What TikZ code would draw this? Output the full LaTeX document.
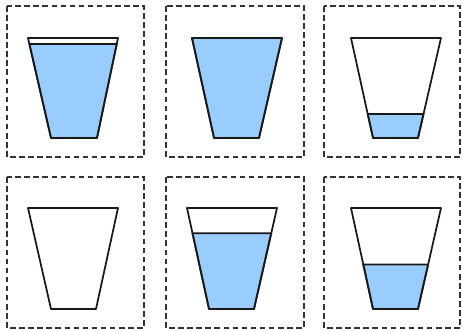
\documentclass[tikz,border=0pt]{standalone}
\usetikzlibrary{calc}
\definecolor{water}{HTML}{99CCFF}
\tikzset{
  panelbox/.style={draw=black!80, line width=1.2pt, dash pattern=on 4.2pt off 2.6pt},
  glassline/.style={draw=black!90, line width=1.3pt, line join=round},
  waterfill/.style={fill=water, draw=black!90, line width=1.3pt, line join=round}
}
% #1 tlx #2 trx #3 blx #4 brx #5 top y #6 bottom y
\newcommand\glassfig[6]{%
  \coordinate (TL) at (#1,#5); \coordinate (TR) at (#2,#5);
  \coordinate (BL) at (#3,#6); \coordinate (BR) at (#4,#6);
}
\newcommand\waterlevel[1]{%
  \path[waterfill] ($(TL)!#1!(BL)$) -- ($(TR)!#1!(BR)$) -- (BR) -- (BL) -- cycle;
}
\newcommand\glassoutline{\draw[glassline] (TL) -- (TR) -- (BR) -- (BL) -- cycle;}
\begin{document}
\begin{tikzpicture}[x=0.75pt,y=-0.75pt]
\useasboundingbox (0,0) rectangle (462,331);
% panel boxes
\draw[panelbox] (7,6) rectangle (144,157);
\draw[panelbox] (166,6) rectangle (304,157);
\draw[panelbox] (324,6) rectangle (460,157);
\draw[panelbox] (7,177) rectangle (144,328);
\draw[panelbox] (166,177) rectangle (304,328);
\draw[panelbox] (324,177) rectangle (460,328);
% glass 1
\glassfig{28}{118}{51}{97}{38}{138}\waterlevel{0.06}\glassoutline
% glass 2
\glassfig{192}{282}{214}{259}{38}{138}\waterlevel{0}\glassoutline
% glass 3
\glassfig{351}{441}{373}{418}{38}{138}\waterlevel{0.76}\glassoutline
% glass 4
\glassfig{28}{118}{51}{96}{208}{309}\glassoutline
% glass 5
\glassfig{187}{277}{209}{254}{208}{309}\waterlevel{0.25}\glassoutline
% glass 6
\glassfig{351}{441}{373}{418}{208}{309}\waterlevel{0.56}\glassoutline
\end{tikzpicture}
\end{document}
